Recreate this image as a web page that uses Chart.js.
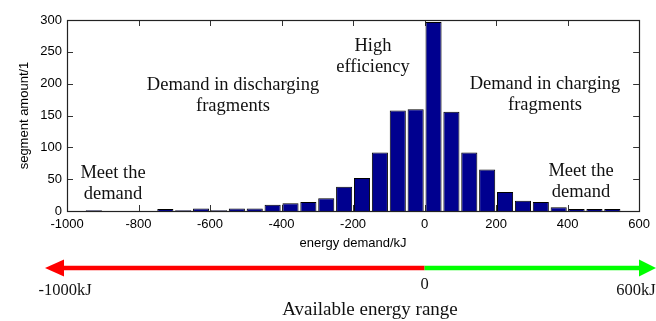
<!DOCTYPE html>
<html>
<head>
<meta charset="utf-8">
<script src="https://cdn.jsdelivr.net/npm/chart.js@4"></script>
<style>
  body { margin: 0; background: #fff; }
</style>
</head>
<body>
<div style="position: relative; width: 656px; height: 321px;">
  <canvas id="chart" width="656" height="321"></canvas>
</div>
<script>
// histogram bins (centre of each 50 kJ bin) and segment counts
var binCentres = [-925, -875, -825, -775, -725, -675, -625, -575, -525, -475,
                  -425, -375, -325, -275, -225, -175, -125, -75, -25, 25,
                  75, 125, 175, 225, 275, 325, 375, 425, 475, 525];
var segmentCounts = [1, 0, 0, 0, 3, 1, 4, 1, 4, 4,
                     10, 12, 14, 20, 38, 52, 92, 158, 160, 297,
                     156, 92, 65, 30, 16, 14, 6, 3, 3, 3];
var xTicks = [-1000, -800, -600, -400, -200, 0, 200, 400, 600];
var yTicks = [0, 50, 100, 150, 200, 250, 300];

var sansFont = "'Liberation Sans', Arial, sans-serif";
var serifFont = "'Liberation Serif', 'Times New Roman', serif";

// text notes inside the plot (canvas pixels, centre of each line)
var notes = [
    {lines: ["Demand in discharging", "fragments"], x: 233, y: 85},
    {lines: ["High", "efficiency"], x: 373, y: 46},
    {lines: ["Demand in charging", "fragments"], x: 545, y: 84},
    {lines: ["Meet the", "demand"], x: 113, y: 173},
    {lines: ["Meet the", "demand"], x: 581, y: 171}
];

var histData = binCentres.map(function(c, i){ return {x: c, y: segmentCounts[i]}; });

var matlabBox = {
    id: "matlabBox",
    beforeDatasetsDraw: function(chart){
        var ctx = chart.ctx;
        var a = chart.chartArea;
        var xs = chart.scales.x, ys = chart.scales.y;
        ctx.save();
        ctx.strokeStyle = "#333";
        ctx.lineWidth = 1;
        ctx.beginPath();
        xTicks.forEach(function(t){
            var px = Math.round(xs.getPixelForValue(t)) + 0.5;
            ctx.moveTo(px, a.bottom); ctx.lineTo(px, a.bottom - 6);
            ctx.moveTo(px, a.top); ctx.lineTo(px, a.top + 6);
        });
        yTicks.forEach(function(t){
            var py = Math.round(ys.getPixelForValue(t)) + 0.5;
            ctx.moveTo(a.left, py); ctx.lineTo(a.left + 6, py);
            ctx.moveTo(a.right, py); ctx.lineTo(a.right - 6, py);
        });
        ctx.stroke();
        ctx.restore();
    },
    afterDraw: function(chart){
        var ctx = chart.ctx;
        var a = chart.chartArea;
        var xs = chart.scales.x;
        ctx.save();
        // box
        ctx.strokeStyle = "#222";
        ctx.lineWidth = 1.2;
        ctx.strokeRect(Math.round(a.left) + 0.5, Math.round(a.top) + 0.5,
                       Math.round(a.right - a.left), Math.round(a.bottom - a.top));

        // notes
        ctx.fillStyle = "#111";
        ctx.font = "18.5px " + serifFont;
        ctx.textAlign = "center";
        ctx.textBaseline = "middle";
        notes.forEach(function(n){
            n.lines.forEach(function(line, k){
                ctx.fillText(line, n.x, n.y + k * 21);
            });
        });

        // energy range arrow
        var zeroPx = xs.getPixelForValue(0);
        var yArrow = 268;
        ctx.lineWidth = 4.5;
        ctx.strokeStyle = "#ff0000";
        ctx.beginPath(); ctx.moveTo(60, yArrow); ctx.lineTo(zeroPx, yArrow); ctx.stroke();
        ctx.fillStyle = "#ff0000";
        ctx.beginPath(); ctx.moveTo(45, yArrow); ctx.lineTo(64, yArrow - 8.5); ctx.lineTo(64, yArrow + 8.5); ctx.closePath(); ctx.fill();
        ctx.strokeStyle = "#00ff00";
        ctx.beginPath(); ctx.moveTo(zeroPx, yArrow); ctx.lineTo(642, yArrow); ctx.stroke();
        ctx.fillStyle = "#00ff00";
        ctx.beginPath(); ctx.moveTo(656, yArrow); ctx.lineTo(639, yArrow - 8.5); ctx.lineTo(639, yArrow + 8.5); ctx.closePath(); ctx.fill();

        ctx.fillStyle = "#111";
        ctx.font = "16.5px " + serifFont;
        ctx.fillText("-1000kJ", 65, 291);
        ctx.fillText("0", zeroPx, 285);
        ctx.fillText("600kJ", 636, 291);
        ctx.font = "19px " + serifFont;
        ctx.fillText("Available energy range", 370, 310);
        ctx.restore();
    }
};

var context = document.getElementById("chart").getContext("2d");
var histChart = new Chart(context, {
    type: "bar",
    data: {
        datasets: [
            {
                label: "segments",
                data: histData,
                backgroundColor: "#00008f",
                borderColor: "#000",
                borderWidth: 1,
                barPercentage: 0.9,
                categoryPercentage: 1.0
            }
        ]
    },
    options: {
        responsive: false,
        animation: false,
        layout: {
            padding: {left: 0, top: 20, right: 14, bottom: 70}
        },
        plugins: {
            legend: {display: false},
            tooltip: {enabled: false}
        },
        scales: {
            x: {
                type: "linear",
                min: -1000,
                max: 600,
                offset: false,
                afterFit: function(s){ s.height = 40; },
                afterBuildTicks: function(s){ s.ticks = xTicks.map(function(v){ return {value: v}; }); },
                grid: {display: false, drawTicks: false, offset: false},
                border: {display: false},
                ticks: {
                    padding: 6,
                    color: "#000",
                    maxRotation: 0,
                    autoSkip: false,
                    font: {family: sansFont, size: 13},
                    callback: function(v){ return String(v); }
                },
                title: {
                    display: true,
                    text: "energy demand/kJ",
                    color: "#000",
                    font: {family: sansFont, size: 13},
                    padding: {top: 0, bottom: 0}
                }
            },
            y: {
                min: 0,
                max: 300,
                afterFit: function(s){ s.width = 67; },
                afterBuildTicks: function(s){ s.ticks = yTicks.map(function(v){ return {value: v}; }); },
                grid: {display: false, drawTicks: false},
                border: {display: false},
                ticks: {
                    padding: 5,
                    color: "#000",
                    font: {family: sansFont, size: 13},
                    callback: function(v){ return String(v); }
                },
                title: {
                    display: true,
                    text: "segment amount/1",
                    color: "#000",
                    font: {family: sansFont, size: 13},
                    padding: {top: 17, bottom: 0}
                }
            }
        }
    },
    plugins: [matlabBox]
});
</script>
</body>
</html>
